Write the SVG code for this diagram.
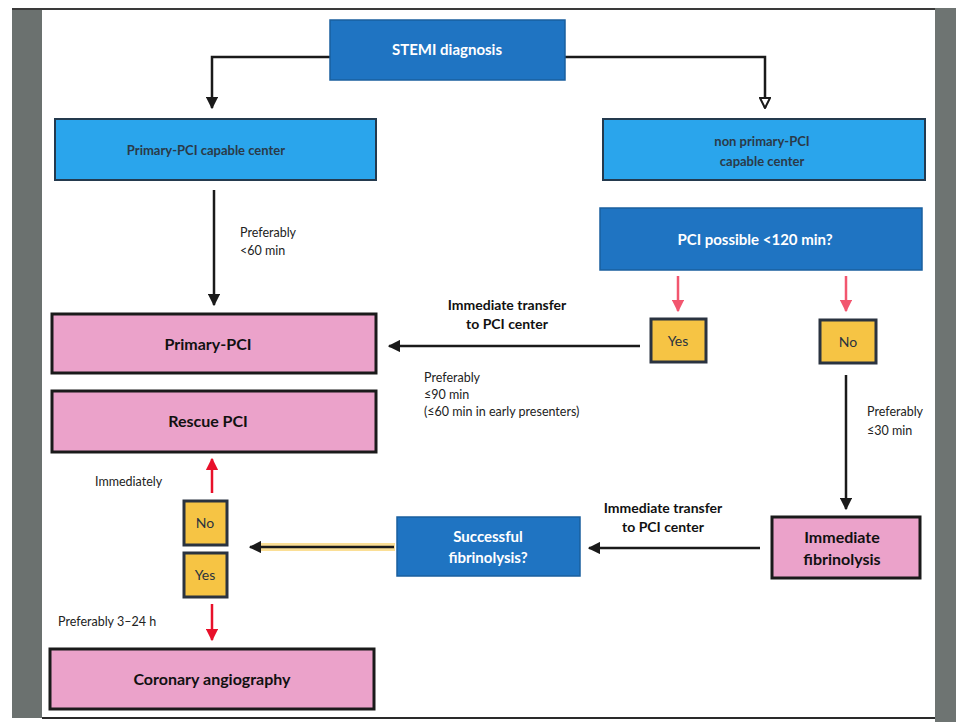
<svg xmlns="http://www.w3.org/2000/svg" width="956" height="722" viewBox="0 0 956 722">
  <style>
    .dark { fill: #1f74c2; stroke: #1a5f9e; stroke-width: 1.5; }
    .light { fill: #2aa5ec; stroke: #243a4e; stroke-width: 2; }
    .pink { fill: #eba2ca; stroke: #1a1a1a; stroke-width: 3; }
    .yn { fill: #f6c444; stroke: #2a3340; stroke-width: 3; }
    text { font-family: Lato, "Open Sans", "Liberation Sans", sans-serif; }
    .wt { fill: #ffffff; font-weight: bold; font-size: 15px; text-anchor: middle; }
    .bt { fill: #2a3a48; font-weight: bold; font-size: 13px; text-anchor: middle; }
    .pt { fill: #111111; font-weight: bold; font-size: 16px; text-anchor: middle; }
    .yt { fill: #2a3340; font-size: 14px; text-anchor: middle; }
    .lbl { fill: #222222; font-size: 12.5px; }
    .lblb { fill: #111111; font-weight: bold; font-size: 14px; text-anchor: middle; }
    .conn { fill: none; stroke: #1a1a1a; stroke-width: 2.5; }
    .red { fill: none; stroke: #e8102a; stroke-width: 2.5; }
    .rose { fill: none; stroke: #f2566f; stroke-width: 2.5; }
  </style>
  <defs>
    <marker id="ah" viewBox="0 0 10 10" refX="9" refY="5" markerWidth="5" markerHeight="5" orient="auto" markerUnits="strokeWidth">
      <path d="M0,0 L10,5 L0,10 Z" fill="#1a1a1a"/>
    </marker>
    <marker id="ahOpen" viewBox="0 0 10 10" refX="9" refY="5" markerWidth="5" markerHeight="5" orient="auto" markerUnits="strokeWidth">
      <path d="M1,1 L9,5 L1,9 Z" fill="#ffffff" stroke="#1a1a1a" stroke-width="1.6"/>
    </marker>
    <marker id="ahRed" viewBox="0 0 10 10" refX="9" refY="5" markerWidth="5" markerHeight="5" orient="auto" markerUnits="strokeWidth">
      <path d="M0,0 L10,5 L0,10 Z" fill="#e8102a"/>
    </marker>
    <marker id="ahRose" viewBox="0 0 10 10" refX="9" refY="5" markerWidth="5" markerHeight="5" orient="auto" markerUnits="strokeWidth">
      <path d="M0,0 L10,5 L0,10 Z" fill="#f2566f"/>
    </marker>
  </defs>

  <!-- page and frame -->
  <rect x="0" y="0" width="956" height="722" fill="#ffffff"/>
  <rect x="12" y="8" width="30" height="710" fill="#6b716f"/>
  <rect x="935" y="8" width="21" height="714" fill="#6e7472"/>
  <line x1="12" y1="9" x2="935" y2="9" stroke="#3a3a3a" stroke-width="2"/>
  <line x1="42" y1="718" x2="935" y2="718" stroke="#2a2a2a" stroke-width="2"/>

  <!-- connectors -->
  <g id="connectors">
    <polyline class="conn" points="330,57 212,57 212,108" marker-end="url(#ah)"/>
    <polyline class="conn" points="565,57 765,57 765,108" marker-end="url(#ahOpen)"/>
    <line class="conn" x1="214" y1="190" x2="214" y2="305" marker-end="url(#ah)"/>
    <line class="rose" x1="678" y1="276" x2="678" y2="311" marker-end="url(#ahRose)"/>
    <line class="rose" x1="846" y1="276" x2="846" y2="311" marker-end="url(#ahRose)"/>
    <line class="conn" x1="640" y1="346" x2="389" y2="346" marker-end="url(#ah)"/>
    <line class="conn" x1="846" y1="375" x2="846" y2="509" marker-end="url(#ah)"/>
    <line class="conn" x1="760" y1="548" x2="589" y2="548" marker-end="url(#ah)"/>
    <line x1="395" y1="547" x2="258" y2="547" stroke="#fbdf96" stroke-width="8"/>
    <line class="conn" x1="394" y1="547" x2="250" y2="547" marker-end="url(#ah)"/>
    <line class="red" x1="212" y1="493" x2="212" y2="459" marker-end="url(#ahRed)"/>
    <line class="red" x1="212" y1="604" x2="212" y2="640" marker-end="url(#ahRed)"/>
  </g>

  <!-- connector labels -->
  <g id="labels">
    <text class="lbl" x="240" y="237">Preferably</text>
    <text class="lbl" x="240" y="255">&lt;60 min</text>
    <text class="lblb" x="507" y="310">Immediate transfer</text>
    <text class="lblb" x="507" y="329">to PCI center</text>
    <text class="lbl" x="424" y="382">Preferably</text>
    <text class="lbl" x="424" y="399">≤90 min</text>
    <text class="lbl" x="424" y="416">(≤60 min in early presenters)</text>
    <text class="lbl" x="867" y="416">Preferably</text>
    <text class="lbl" x="867" y="435">≤30 min</text>
    <text class="lblb" x="663" y="513">Immediate transfer</text>
    <text class="lblb" x="663" y="532">to PCI center</text>
    <text class="lbl" x="95" y="486">Immediately</text>
    <text class="lbl" x="58" y="626">Preferably 3–24 h</text>
  </g>

  <!-- nodes -->
  <g id="stemi">
    <rect class="dark" x="330" y="20" width="235" height="60"/>
    <text class="wt" x="447" y="55" font-size="16">STEMI diagnosis</text>
  </g>
  <g id="pci-capable">
    <rect class="light" x="55" y="119" width="321" height="61"/>
    <text class="bt" x="206" y="155">Primary-PCI capable center</text>
  </g>
  <g id="non-pci-capable">
    <rect class="light" x="603" y="119" width="322" height="61"/>
    <text class="bt" x="762" y="146">non primary-PCI</text>
    <text class="bt" x="762" y="166">capable center</text>
  </g>
  <g id="pci-possible">
    <rect class="dark" x="600" y="208" width="322" height="62"/>
    <text class="wt" x="755" y="245" font-size="14">PCI possible &lt;120 min?</text>
  </g>
  <g id="primary-pci">
    <rect class="pink" x="52" y="314" width="324" height="59"/>
    <text class="pt" x="208" y="350">Primary-PCI</text>
  </g>
  <g id="rescue-pci">
    <rect class="pink" x="52" y="391" width="324" height="61"/>
    <text class="pt" x="208" y="427">Rescue PCI</text>
  </g>
  <g id="yes-top">
    <rect class="yn" x="651" y="319" width="55" height="43"/>
    <text class="yt" x="678" y="346">Yes</text>
  </g>
  <g id="no-top">
    <rect class="yn" x="820" y="320" width="56" height="43"/>
    <text class="yt" x="848" y="347">No</text>
  </g>
  <g id="immediate-fibrinolysis">
    <rect class="pink" x="772" y="517" width="148" height="61"/>
    <text class="pt" x="842" y="543">Immediate</text>
    <text class="pt" x="842" y="565">fibrinolysis</text>
  </g>
  <g id="successful-fibrinolysis">
    <rect class="dark" x="397" y="517" width="183" height="59"/>
    <text class="wt" x="488" y="542" font-size="14">Successful</text>
    <text class="wt" x="488" y="563" font-size="14">fibrinolysis?</text>
  </g>
  <g id="no-bottom">
    <rect class="yn" x="184" y="501" width="43" height="44"/>
    <text class="yt" x="205" y="528" fill="#2a1f30">No</text>
  </g>
  <g id="yes-bottom">
    <rect class="yn" x="184" y="553" width="43" height="44"/>
    <text class="yt" x="205" y="580">Yes</text>
  </g>
  <g id="coronary-angiography">
    <rect class="pink" x="50" y="649" width="324" height="60"/>
    <text class="pt" x="212" y="685">Coronary angiography</text>
  </g>
</svg>
